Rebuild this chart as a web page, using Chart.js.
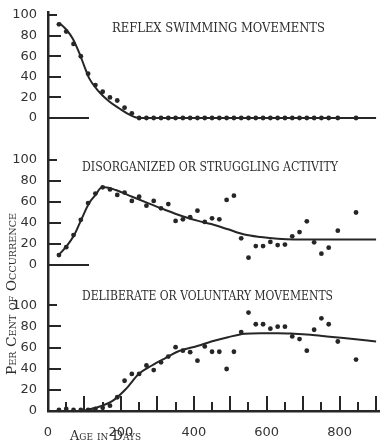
<!DOCTYPE html>
<html>
<head>
<meta charset="utf-8">
<script src="https://cdn.jsdelivr.net/npm/chart.js@4"></script>
<style>
  html, body { margin: 0; padding: 0; background: #fff; }
</style>
</head>
<body>
<canvas id="chart" width="383" height="448"></canvas>
<script>
// DATA ------------------------------------------------------

// ages (days) at which the observations were made, shared by the three panels
const ages = [30, 50, 70, 90, 110, 130, 150, 170, 190, 210, 230, 250, 270, 290, 310, 330, 350, 370, 390, 410,
              430, 450, 470, 490, 510, 530, 550, 570, 590, 610, 630, 650, 670, 690, 710, 730, 750, 770, 795, 845];

const reflexPoints = [91, 84, 72, 60, 43, 32, 25.5, 20, 17, 10, 4.5, 0, 0, 0, 0, 0, 0, 0, 0, 0,
                      0, 0, 0, 0, 0, 0, 0, 0, 0, 0, 0, 0, 0, 0, 0, 0, 0, 0, 0, 0];

const strugglePoints = [9.5, 17, 28.5, 43, 59, 68, 74, 72, 66.7, 69, 61, 65, 56.5, 61, 54, 58, 42, 43.5, 45.5, 51.7,
                        41, 44.5, 43.5, 62, 66, 25.4, 7, 18, 18, 22, 19, 19.5, 27.3, 31.4, 41.6, 21.6, 10.8, 16.5, 32.7, 50];

const voluntaryPoints = [1, 2, 1, 1, 1, 2, 3, 5, 13, 28.6, 35, 35, 43, 38.7, 46, 51.4, 60.3, 57, 55.6, 47.6,
                         61, 56, 56, 39.7, 56, 74.6, 93, 82, 82, 77.8, 79.7, 79.7, 70.5, 68, 57, 76.8, 87.6, 82, 65.7, 48.6];

// smoothed curves drawn through each panel
const reflexCurveAges = [31, 50, 68, 86, 100, 113, 140, 168, 195, 222, 249, 900];
const reflexCurve     = [92.5, 86, 77, 63, 50, 38.5, 25.5, 16, 9.5, 3.5, 0, 0];

const struggleCurveAges = [29, 50, 72, 91, 113, 131, 145, 156, 186, 231, 276, 322, 367, 412, 448, 494, 539, 584, 630, 675, 900];
const struggleCurve     = [9.5, 17.5, 28.5, 43, 59, 67, 73.5, 74, 71.4, 65, 58.7, 52.4, 46.7, 42, 39, 34, 29, 26.6, 25, 24.4, 24.4];

const voluntaryCurveAges = [95, 140, 177, 213, 249, 285, 322, 358, 412, 448, 494, 539, 584, 630, 675, 720, 765, 811, 900];
const voluntaryCurve     = [0, 4, 9.5, 20.6, 35, 43, 50, 56.5, 61.6, 65.7, 69.8, 73, 73.6, 73.6, 73, 72, 70.5, 68.9, 65.7];

const xTickStep = 50;
const yTickStep = 20;

const captions = ["REFLEX SWIMMING MOVEMENTS", "DISORGANIZED OR STRUGGLING ACTIVITY", "DELIBERATE OR VOLUNTARY MOVEMENTS"];
const yTitle = "Per Cent of Occurrence";
const xTitle = "Age in Days";

// HELPERS ------------------------------------------------------

const ink = '#262626';
const tickFont = { family: "'DejaVu Sans'", size: 13 };

const pairs = (xs, ys) => xs.map((x, i) => ({ x: x, y: ys[i] }));

function curveSet(xs, ys, axis) {
    return {
        data: pairs(xs, ys),
        yAxisID: axis,
        showLine: true,
        borderColor: ink,
        borderWidth: 2,
        pointRadius: 0,
        cubicInterpolationMode: 'monotone',
        clip: false
    };
}

function dotSet(ys, axis) {
    return {
        data: pairs(ages, ys),
        yAxisID: axis,
        showLine: false,
        pointRadius: 2.4,
        pointBackgroundColor: ink,
        pointBorderWidth: 0,
        clip: false
    };
}

function panelScale(weight, max) {
    return {
        type: 'linear',
        position: 'left',
        stack: 'panels',
        stackWeight: weight,
        min: 0,
        max: max,
        border: { color: ink, width: 2.5 },
        grid: { display: false },
        ticks: { stepSize: yTickStep, includeBounds: false, autoSkip: false, padding: 3, color: '#333', font: tickFont },
        afterBuildTicks: s => { s.ticks = s.ticks.filter(t => t.value <= 100); },
        afterFit: s => { s.width = 48; }
    };
}

function fitText(ctx, text, x, y, w) {
    const m = ctx.measureText(text).width;
    ctx.save();
    ctx.translate(x, y);
    ctx.scale(w / m, 1);
    ctx.fillText(text, 0, 0);
    ctx.restore();
}

// tick marks point into the plot, captions and titles are lettered by hand
const handLettering = {
    id: 'handLettering',
    afterDraw(chart) {
        const ctx = chart.ctx;
        const x = chart.scales.x;
        const area = chart.chartArea;
        ctx.save();
        ctx.strokeStyle = ink;
        ctx.lineWidth = 2;
        ['yReflex', 'yStruggle', 'yVoluntary'].forEach(id => {
            const s = chart.scales[id];
            s.ticks.forEach(t => {
                if (id === 'yVoluntary' && t.value === 0) return;
                const py = Math.round(s.getPixelForValue(t.value));
                const len = t.value === 0 ? 41 : (t.value === 100 ? 9 : 13);
                ctx.beginPath();
                ctx.moveTo(area.left, py);
                ctx.lineTo(area.left + len, py);
                ctx.stroke();
            });
        });
        x.ticks.forEach(t => {
            if (t.value === 0) return;
            const px = Math.round(x.getPixelForValue(t.value));
            const len = t.value % 100 === 0 ? 15 : 9;
            ctx.beginPath();
            ctx.moveTo(px, area.bottom);
            ctx.lineTo(px, area.bottom - len);
            ctx.stroke();
        });

        ctx.fillStyle = '#2e2e2e';
        ctx.textBaseline = 'middle';
        ctx.textAlign = 'left';
        ctx.font = "12px 'DejaVu Serif'";
        fitText(ctx, captions[0], 112, 29, 213);
        fitText(ctx, captions[1], 82, 168, 256);
        fitText(ctx, captions[2], 82, 297, 251);

        ctx.font = "small-caps 13px 'DejaVu Serif'";
        ctx.save();
        ctx.translate(13, 375);
        ctx.rotate(-Math.PI / 2);
        fitText(ctx, yTitle, 0, 0, 162);
        ctx.restore();
        fitText(ctx, xTitle, 70, 437, 71);
        ctx.restore();
    }
};

// CHART ------------------------------------------------------

const chart = new Chart(document.getElementById('chart'), {
    type: 'scatter',
    data: {
        datasets: [
            curveSet(reflexCurveAges, reflexCurve, 'yReflex'),
            dotSet(reflexPoints, 'yReflex'),
            curveSet(struggleCurveAges, struggleCurve, 'yStruggle'),
            dotSet(strugglePoints, 'yStruggle'),
            curveSet(voluntaryCurveAges, voluntaryCurve, 'yVoluntary'),
            dotSet(voluntaryPoints, 'yVoluntary')
        ]
    },
    options: {
        responsive: false,
        animation: false,
        layout: { padding: { top: 12, right: 0, left: 0, bottom: 0 } },
        plugins: {
            legend: { display: false },
            tooltip: { enabled: false }
        },
        scales: {
            x: {
                type: 'linear',
                position: 'bottom',
                min: 0,
                max: 908,
                border: { color: ink, width: 2.5 },
                grid: { display: false },
                ticks: {
                    stepSize: xTickStep,
                    includeBounds: false,
                    autoSkip: false,
                    maxRotation: 0,
                    padding: 6,
                    color: '#333',
                    font: tickFont,
                    callback: v => v % 200 === 0 ? v : ''
                },
                afterFit: s => { s.height = 37; }
            },
            // listed bottom first: the last stacked scale ends up on top
            yVoluntary: panelScale(146, 138),
            yStruggle: panelScale(147, 140),
            yReflex: panelScale(106, 103)
        }
    },
    plugins: [handLettering]
});
</script>
</body>
</html>
